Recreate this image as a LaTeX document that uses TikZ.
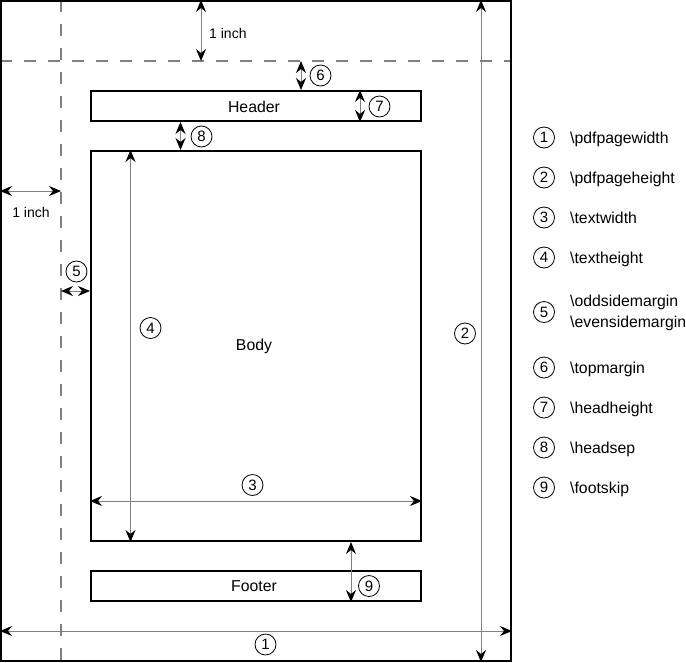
\documentclass[tikz,border=0pt]{standalone}
\usepackage{fontspec}
\setmainfont{Liberation Sans}
\usetikzlibrary{arrows.meta}
\begin{document}
\begin{tikzpicture}[x=1pt,y=-1pt,
  every node/.style={font=\fontsize{15.8}{19}\selectfont},
  frame/.style={draw=black,line width=2pt,inner sep=0pt,minimum width=330pt},
  guide/.style={draw=gray,line width=2pt,dash pattern=on 12pt off 12pt},
  dim/.style={draw=gray,line width=1pt,{Stealth[length=12pt,width=10pt,inset=4pt,color=black]}-{Stealth[length=12pt,width=10pt,inset=4pt,color=black]}},
  num/.style={circle,draw=black,line width=0.8pt,minimum size=21pt,inner sep=0pt,font=\fontsize{15}{18}\selectfont},
  inch/.style={font=\fontsize{14}{17}\selectfont},
  leg/.style={anchor=base west,inner sep=0pt}]
\useasboundingbox (0,0) rectangle (686,662);
% guides
\coordinate (gh1) at (0,61);
\coordinate (gh2) at (511,61);
\coordinate (gv1) at (61,0);
\coordinate (gv2) at (61,662);
\draw[guide] (gh1) -- (gh2);
\draw[guide] (gv1) -- (gv2);
% page and boxes
\node[draw=black,line width=2pt,inner sep=0pt,minimum width=510pt,minimum height=660pt] (page) at (256,331) {};
\node[frame,minimum height=30pt] (header) at (256,106) {};
\node at (254,106.5) {Header};
\node[frame,minimum height=390pt] (body) at (256,346) {};
\node at (254,346.5) {Body};
\node[frame,minimum height=30pt] (footer) at (256,586) {};
\node at (254,586.5) {Footer};
% dimension arrows
\draw[dim] (page.north -| 201,0) -- (gh1 -| 201,0);
\node[inch,anchor=west,inner sep=0pt] (inchtop) at (209,33) {1 inch};
\draw[dim] (page.west |- 0,191) -- (gv1 |- 0,191);
\node[inch] (inchleft) at (31,212) {1 inch};
\draw[dim] (gh1 -| 301,0) -- (header.north -| 301,0);
\node[num] (n6) at (320.5,75.5) {6};
\draw[dim] (header.north -| 360,0) -- (header.south -| 360,0);
\node[num] (n7) at (379.5,106.5) {7};
\draw[dim] (header.south -| 180.5,0) -- (body.north -| 180.5,0);
\node[num] (n8) at (201.5,136.5) {8};
\draw[dim] (gv1 |- 0,291) -- (body.west |- 0,291);
\node[num] (n5) at (76.5,271.5) {5};
\draw[dim] (body.north -| 130.5,0) -- (body.south -| 130.5,0);
\node[num] (n4) at (150.5,328) {4};
\draw[dim] (body.west |- 0,501) -- (body.east |- 0,501);
\node[num] (n3) at (252.5,485) {3};
\draw[dim] (body.south -| 351,0) -- (footer.south -| 351,0);
\node[num] (n9) at (369,586) {9};
\draw[dim] (page.west |- 0,631) -- (page.east |- 0,631);
\node[num] (n1) at (265.5,644.5) {1};
\draw[dim] (page.north -| 481,0) -- (page.south -| 481,0);
\node[num] (n2) at (465,333.5) {2};
% legend
\node[num] (l1) at (544,137.5) {1};
\node[leg] (t1) at (570,143.5) {\textbackslash pdfpagewidth};
\node[num] (l2) at (544,177.5) {2};
\node[leg] (t2) at (570,183.5) {\textbackslash pdfpageheight};
\node[num] (l3) at (544,217.5) {3};
\node[leg] (t3) at (570,223.5) {\textbackslash textwidth};
\node[num] (l4) at (544,257.5) {4};
\node[leg] (t4) at (570,263.5) {\textbackslash textheight};
\node[num] (l5) at (544,312) {5};
\node[leg] (t5a) at (570,306) {\textbackslash oddsidemargin};
\node[leg] (t5b) at (570,327.5) {\textbackslash evensidemargin};
\node[num] (l6) at (544,367.5) {6};
\node[leg] (t6) at (570,373.5) {\textbackslash topmargin};
\node[num] (l7) at (544,407.5) {7};
\node[leg] (t7) at (570,413.5) {\textbackslash headheight};
\node[num] (l8) at (544,447.5) {8};
\node[leg] (t8) at (570,453.5) {\textbackslash headsep};
\node[num] (l9) at (544,487.5) {9};
\node[leg] (t9) at (570,493.5) {\textbackslash footskip};
\end{tikzpicture}
\end{document}
